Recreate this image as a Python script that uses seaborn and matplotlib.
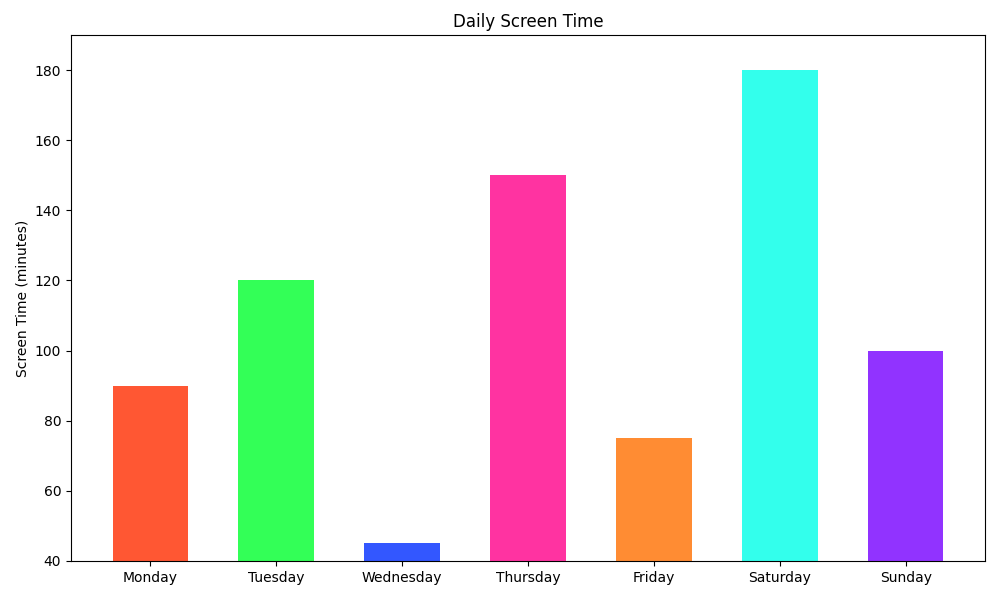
import matplotlib
matplotlib.use("Agg")
import matplotlib.pyplot as plt
import seaborn as sns
import pandas as pd

days = ["Monday", "Tuesday", "Wednesday", "Thursday", "Friday", "Saturday", "Sunday"]
minutes = [90, 120, 45, 150, 75, 180, 100]
colors = ["#FF5733", "#33FF57", "#3357FF", "#FF33A1", "#FF8C33", "#33FFEC", "#9133FF"]

df = pd.DataFrame({"Day": days, "Minutes": minutes})

fig, ax = plt.subplots(figsize=(10, 6), dpi=100)
sns.barplot(data=df, x="Day", y="Minutes", hue="Day", palette=colors,
            saturation=1, width=0.6, legend=False, ax=ax)
ax.set_ylim(40, 190)
ax.set_title("Daily Screen Time")
ax.set_xlabel("")
ax.set_ylabel("Screen Time (minutes)")
ax.set_xlim(-0.63, 6.63)
fig.subplots_adjust(left=0.071, right=0.985, top=0.9417, bottom=0.065)
fig.savefig("out.png")
